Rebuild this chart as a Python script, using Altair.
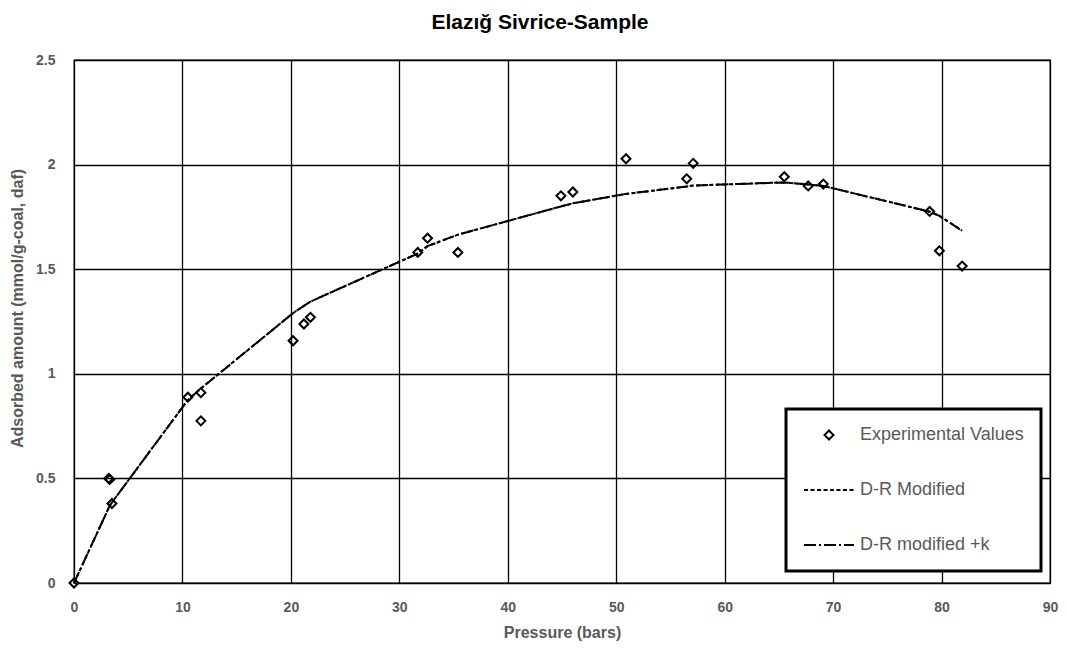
import altair as alt
import pandas as pd

SERIES = ["Experimental Values", "D-R Modified", "D-R modified +k"]

# Experimental values
exp_p = [0, 3.2, 3.3, 3.5, 10.5, 11.7, 11.7, 20.2, 21.2, 21.8, 31.7, 32.6, 35.4,
         44.9, 46.0, 50.9, 56.5, 57.1, 65.5, 67.7, 69.1, 78.9, 79.8, 81.9]
exp_a = [0, 0.50, 0.495, 0.38, 0.888, 0.91, 0.775, 1.158, 1.238, 1.27, 1.58, 1.648, 1.58,
         1.851, 1.869, 2.028, 1.932, 2.006, 1.942, 1.898, 1.907, 1.776, 1.588, 1.515]

# Model curves
model_p = [0, 3.3, 3.5, 10.5, 11.7, 20.2, 21.2, 21.8, 31.7, 32.6, 35.4, 44.9, 46.0,
           50.9, 56.5, 57.1, 65.5, 67.7, 69.1, 78.9, 79.8, 81.9]
drm_a = [0, 0.37, 0.385, 0.875, 0.93, 1.29, 1.325, 1.345, 1.575, 1.61, 1.665, 1.80, 1.815,
         1.86, 1.895, 1.90, 1.915, 1.905, 1.898, 1.775, 1.755, 1.684]
drmk_a = [0, 0.37, 0.385, 0.875, 0.93, 1.29, 1.325, 1.345, 1.575, 1.61, 1.665, 1.80, 1.815,
          1.86, 1.895, 1.90, 1.915, 1.905, 1.898, 1.775, 1.755, 1.684]

exp_df = pd.DataFrame({"p": exp_p, "a": exp_a, "series": SERIES[0]})
line_df = pd.concat([
    pd.DataFrame({"p": model_p, "a": drm_a, "series": SERIES[1]}),
    pd.DataFrame({"p": model_p, "a": drmk_a, "series": SERIES[2]}),
], ignore_index=True)

AXIS_GRAY = "#595959"
FONT = "Liberation Sans"

legend = alt.Legend(
    title=None, orient="none", legendX=712, legendY=349,
    fillColor="white", strokeColor="black", padding=17, rowPadding=20,
    labelFont=FONT, labelFontSize=18, labelColor=AXIS_GRAY, labelOffset=5,
    symbolStrokeColor="black", symbolStrokeWidth=2, labelLimit=400,
)

x = alt.X("p:Q", scale=alt.Scale(domain=[0, 90], nice=False, zero=False),
          axis=alt.Axis(values=list(range(0, 91, 10)), title="Pressure (bars)",
                        grid=True, gridColor="black", gridWidth=1.3, domain=False,
                        ticks=False, tickSize=0, labelPadding=17,
                        labelFont=FONT, labelFontSize=14, labelFontWeight="bold",
                        labelColor=AXIS_GRAY, labelFlush=False,
                        titleFont=FONT, titleFontSize=16, titleFontWeight="bold",
                        titleColor=AXIS_GRAY, titlePadding=10))
y = alt.Y("a:Q", scale=alt.Scale(domain=[0, 2.5], nice=False),
          axis=alt.Axis(values=[0, 0.5, 1, 1.5, 2, 2.5], format="~g",
                        title="Adsorbed amount (mmol/g-coal, daf)",
                        grid=True, gridColor="black", gridWidth=1.3, domain=False,
                        ticks=False, tickSize=0, labelPadding=19,
                        labelFont=FONT, labelFontSize=14, labelFontWeight="bold",
                        labelColor=AXIS_GRAY, labelFlush=False,
                        titleFont=FONT, titleFontSize=16, titleFontWeight="bold",
                        titleColor=AXIS_GRAY, titleX=-49, titleY=248))

lines = alt.Chart(line_df).mark_line(color="black", strokeWidth=2).encode(
    x=x, y=y,
    strokeDash=alt.StrokeDash("series:N",
                              scale=alt.Scale(domain=SERIES, range=[[1, 0], [4, 2.5], [12, 3, 2, 3]]),
                              legend=legend),
)

points = alt.Chart(exp_df).mark_point(filled=False, color="black", strokeWidth=2, opacity=1).encode(
    x=x, y=y,
    shape=alt.Shape("series:N", scale=alt.Scale(domain=SERIES, range=["diamond", "stroke", "stroke"]),
                    legend=legend),
    size=alt.Size("series:N", scale=alt.Scale(type="ordinal", domain=SERIES, range=[80, 2500, 2500]),
                  legend=legend),
)

chart = alt.layer(lines, points).properties(
    width=976, height=523,
    title=alt.TitleParams("Elazığ Sivrice-Sample", font=FONT, fontSize=21, fontWeight="bold",
                          color="black", anchor="middle", dx=-22, offset=20),
    autosize=alt.AutoSizeParams(type="none"),
    padding={"left": 66, "top": 52, "right": 10, "bottom": 59},
).configure_view(stroke="black", strokeWidth=1.3).configure_legend(strokeWidth=3)

chart.save("out.html", embed_options={"renderer": "svg", "actions": False})
